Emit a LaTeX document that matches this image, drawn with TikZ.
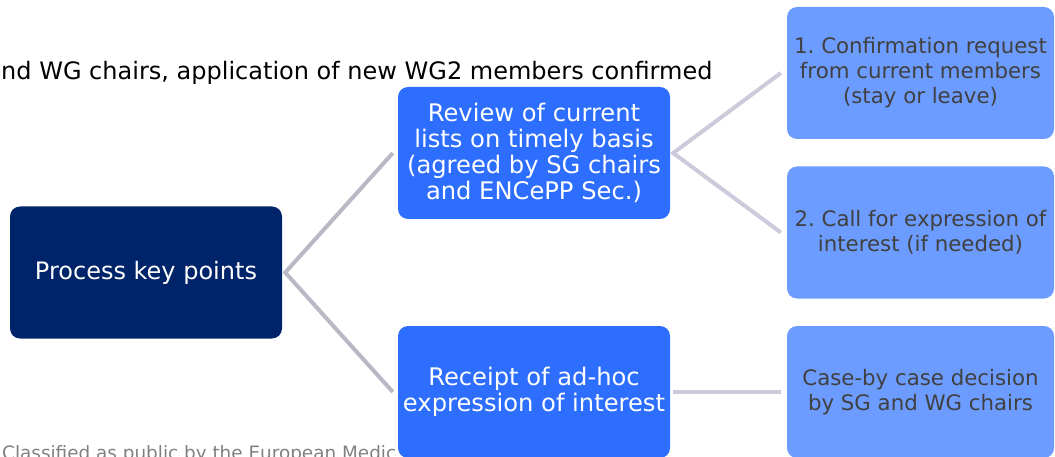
\documentclass[tikz,border=0pt]{standalone}
\usepackage{fontspec}
\setmainfont{DejaVu Sans}
\definecolor{navy}{RGB}{0,36,105}
\definecolor{bright}{RGB}{45,110,255}
\definecolor{pale}{RGB}{108,156,255}
\definecolor{ink}{RGB}{64,64,64}
\definecolor{wire}{RGB}{185,185,197}
\definecolor{wirelight}{RGB}{203,203,219}
\begin{document}
\frenchspacing
\begin{tikzpicture}[x=1pt,y=-1pt,
  box/.style={rounded corners=10pt,minimum height=132pt,align=center,inner sep=0pt},
  keybox/.style={box,fill=navy,text=white,minimum width=272pt,font=\fontsize{24}{27}\selectfont},
  midbox/.style={box,fill=bright,text=white,minimum width=272pt,font=\fontsize{24.2}{26}\selectfont},
  sidebox/.style={box,fill=pale,text=ink,minimum width=267pt,font=\fontsize{21.3}{25}\selectfont},
  link/.style={line width=4pt,wire},
  linklight/.style={line width=4pt,wirelight}]
\useasboundingbox (0,0) rectangle (1055,457);
\clip (0,0) rectangle (1055,457);
\node[anchor=base west,inner sep=0pt,font=\fontsize{24}{26}\selectfont] (head) at (1,80) {nd WG chairs, application of new WG2 members confirmed};
\node[anchor=base west,inner sep=0pt,text=gray,font=\fontsize{18.4}{20}\selectfont] (foot) at (2,459) {Classified as public by the European Medic};
\node[keybox] (root) at (146,272.5) {Process key points};
\node[midbox] (review) at (534,153) {Review of current\\lists on timely basis\\(agreed by SG chairs\\and ENCePP Sec.)};
\node[midbox] (receipt) at (534,392) {Receipt of ad-hoc\\expression of interest};
\node[sidebox] (confirm) at (920.5,73) {1. Confirmation request\\from current members\\(stay or leave)};
\node[sidebox] (call) at (920.5,232.5) {2. Call for expression of\\interest (if needed)};
\node[sidebox] (case) at (920.5,392) {Case-by case decision\\by SG and WG chairs};
\draw[link] ([xshift=-5pt]review.west) -- ([xshift=3pt]root.east) -- ([xshift=-5pt]receipt.west);
\draw[linklight] ([xshift=-6pt]confirm.west) -- ([xshift=3pt]review.east) -- ([xshift=-6pt]call.west);
\draw[linklight] ([xshift=3pt]receipt.east) -- ([xshift=-6pt]case.west);
\end{tikzpicture}
\end{document}
